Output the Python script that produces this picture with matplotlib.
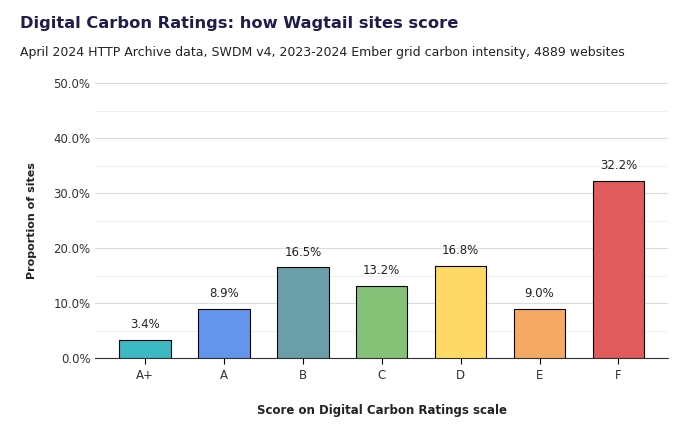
import matplotlib
matplotlib.use("Agg")
import matplotlib.pyplot as plt
from matplotlib.ticker import MultipleLocator, FuncFormatter

categories = ["A+", "A", "B", "C", "D", "E", "F"]
values = [3.4, 8.9, 16.5, 13.2, 16.8, 9.0, 32.2]
colors = ["#3DB9C3", "#6495ED", "#6A9FA8", "#85C277", "#FFD966", "#F5AA63", "#E05B5C"]

fig = plt.figure(figsize=(6.91, 4.28), dpi=100)
ax = fig.add_axes([0.138, 0.163, 0.829, 0.643])
bars = ax.bar(categories, values, width=0.65, color=colors, edgecolor="black", linewidth=0.8, zorder=3)
for b, v in zip(bars, values):
    ax.text(b.get_x() + b.get_width()/2, v + 1.6, f"{v:.1f}%", ha="center", va="bottom", fontsize=8.5, color="#222")
ax.set_ylim(0, 50)
ax.set_xlim(-0.63, 6.63)
ax.yaxis.set_major_locator(MultipleLocator(10))
ax.yaxis.set_minor_locator(MultipleLocator(5))
ax.yaxis.set_major_formatter(FuncFormatter(lambda v, p: f"{v:.1f}%"))
ax.grid(axis="y", which="major", color="#dddddd", linewidth=0.8, zorder=0)
ax.grid(axis="y", which="minor", color="#eeeeee", linewidth=0.6, zorder=0)
for s in ["top", "right", "left"]:
    ax.spines[s].set_visible(False)
ax.spines["bottom"].set_color("#333")
ax.tick_params(axis="y", which="both", length=0, labelsize=8.5, labelcolor="#333")
ax.tick_params(axis="x", length=4, labelsize=8.5, labelcolor="#333")
ax.set_ylabel("Proportion of sites", fontsize=8, fontweight="bold", color="#222", labelpad=12)
ax.set_xlabel("Score on Digital Carbon Ratings scale", fontsize=8.5, fontweight="bold", color="#222", labelpad=16)
fig.text(0.029, 0.935, "Digital Carbon Ratings: how Wagtail sites score", fontsize=11.7, fontweight="bold", color="#1f1d4a")
fig.text(0.029, 0.868, "April 2024 HTTP Archive data, SWDM v4, 2023-2024 Ember grid carbon intensity, 4889 websites", fontsize=9, color="#222")
fig.savefig("out.png", dpi=100)
